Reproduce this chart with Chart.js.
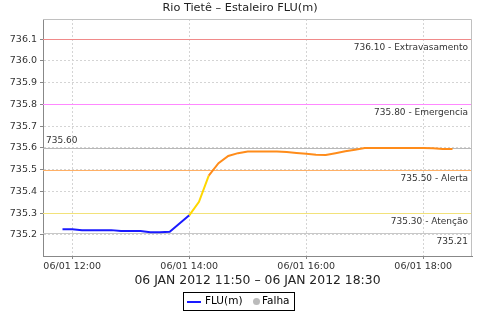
<!DOCTYPE html>
<html>
<head>
<meta charset="utf-8">
<script src="https://cdn.jsdelivr.net/npm/chart.js@4/dist/chart.umd.min.js"></script>
<style>
  html, body { margin: 0; padding: 0; background: #fff; }
  #chart { display: block; }
</style>
</head>
<body>
<canvas id="chart" width="480" height="320"></canvas>
<script>
"use strict";

// readings every 10 minutes, 06 JAN 2012
const times = ["11:50", "12:00", "12:10", "12:20", "12:30", "12:40", "12:50",
               "13:00", "13:10", "13:20", "13:30", "13:40", "13:50",
               "14:00", "14:10", "14:20", "14:30", "14:40", "14:50",
               "15:00", "15:10", "15:20", "15:30", "15:40", "15:50",
               "16:00", "16:10", "16:20", "16:30", "16:40", "16:50",
               "17:00", "17:10", "17:20", "17:30", "17:40", "17:50",
               "18:00", "18:10", "18:20", "18:30"];
const levels = [735.226, 735.226, 735.222, 735.222, 735.222, 735.222, 735.218,
                735.218, 735.218, 735.212, 735.212, 735.214, 735.252,
                735.290, 735.352, 735.473, 735.530, 735.563, 735.576,
                735.584, 735.584, 735.584, 735.584, 735.581, 735.577,
                735.573, 735.569, 735.568, 735.576, 735.585, 735.592,
                735.600, 735.600, 735.600, 735.600, 735.600, 735.600,
                735.600, 735.598, 735.595, 735.595];

const xTicks = ["12:00", "14:00", "16:00", "18:00"];
const yTicks = [735.2, 735.3, 735.4, 735.5, 735.6, 735.7, 735.8, 735.9, 736.0, 736.1];

const thresholdValues = [736.10, 735.80, 735.60, 735.50, 735.30, 735.21];
const thresholdNames = ["Extravasamento", "Emergencia", "", "Alerta", "Atenção", ""];

const titleText = "Rio Tietê – Estaleiro FLU(m)";
const rangeText = "06 JAN 2012 11:50 – 06 JAN 2012 18:30";
const legendNames = ["FLU(m)", "Falha"];

const FONT = "'DejaVu Sans', sans-serif";
const thresholdColors = ["#f08a8a", "#ff88ff", "#b8b8b8", "#ffb066", "#f2e27a", "#c8c8c8"];

function toMinutes(t) {
  const [h, m] = t.split(":").map(Number);
  return h * 60 + m;
}

function fmtTime(min) {
  const h = Math.floor(min / 60), m = min % 60;
  return "06/01 " + String(h).padStart(2, "0") + ":" + String(m).padStart(2, "0");
}

function levelColor(v) {
  if (v < 735.30) return "#1a1aff";
  if (v < 735.50) return "#ffd700";
  return "#ff8c1a";
}

const points = times.map((t, i) => ({ x: toMinutes(t), y: levels[i] }));

const decorPlugin = {
  id: "decor",
  beforeDatasetsDraw(chart) {
    const ctx = chart.ctx;
    const area = chart.chartArea;
    const y = chart.scales.y;
    ctx.save();
    ctx.font = "9px " + FONT;
    ctx.textBaseline = "middle";
    thresholdValues.forEach((v, i) => {
      const py = Math.round(y.getPixelForValue(v)) + 0.5;
      ctx.strokeStyle = thresholdColors[i];
      ctx.lineWidth = 1;
      ctx.beginPath();
      ctx.moveTo(area.left, py);
      ctx.lineTo(area.right, py);
      ctx.stroke();
      ctx.fillStyle = "#333";
      const label = v.toFixed(2) + (thresholdNames[i] ? " - " + thresholdNames[i] : "");
      if (v === 735.60) {
        ctx.textAlign = "left";
        ctx.fillText(label, area.left + 3, py - 8);
      } else {
        ctx.textAlign = "right";
        ctx.fillText(label, area.right - 4, py + 8);
      }
    });
    ctx.restore();
  },
  afterDraw(chart) {
    const ctx = chart.ctx;
    const area = chart.chartArea;
    ctx.save();
    // plot outline (top and right)
    ctx.strokeStyle = "#c0c0c0";
    ctx.lineWidth = 1;
    ctx.beginPath();
    ctx.moveTo(area.left, area.top + 0.5);
    ctx.lineTo(area.right - 0.5, area.top + 0.5);
    ctx.lineTo(area.right - 0.5, area.bottom);
    ctx.stroke();

    // title
    ctx.fillStyle = "#222";
    ctx.textAlign = "center";
    ctx.textBaseline = "middle";
    ctx.font = "11.3px " + FONT;
    ctx.fillText(titleText, 240, 8);

    // date range
    ctx.font = "12.4px " + FONT;
    ctx.fillText(rangeText, (area.left + area.right) / 2, 281);

    // legend
    ctx.strokeStyle = "#000";
    ctx.strokeRect(183.5, 292.5, 111, 18);
    ctx.strokeStyle = "#1a1aff";
    ctx.lineWidth = 2;
    ctx.beginPath();
    ctx.moveTo(187, 302);
    ctx.lineTo(201, 302);
    ctx.stroke();
    ctx.fillStyle = "#bbbbbb";
    ctx.beginPath();
    ctx.arc(256.5, 301.5, 3.5, 0, Math.PI * 2);
    ctx.fill();
    ctx.fillStyle = "#000";
    ctx.textAlign = "left";
    ctx.font = "10.5px " + FONT;
    ctx.fillText(legendNames[0], 205, 301.5);
    ctx.fillText(legendNames[1], 262, 301.5);
    ctx.restore();
  }
};

const chart = new Chart(document.getElementById("chart"), {
  type: "line",
  data: {
    datasets: [{
      label: legendNames[0],
      data: points,
      borderColor: "#1a1aff",
      borderWidth: 2,
      pointRadius: 0,
      tension: 0,
      segment: {
        borderColor: c => levelColor(c.p1.parsed.y)
      }
    }]
  },
  options: {
    responsive: false,
    animation: false,
    layout: { padding: { left: 0, right: 8, top: 19, bottom: 46 } },
    plugins: {
      legend: { display: false },
      tooltip: { enabled: false },
      title: { display: false }
    },
    scales: {
      x: {
        type: "linear",
        min: toMinutes("11:30"),
        max: toMinutes("18:50"),
        afterBuildTicks: s => { s.ticks = xTicks.map(t => ({ value: toMinutes(t) })); },
        afterFit: s => { s.height = 18; },
        ticks: {
          callback: v => fmtTime(v),
          font: { family: FONT, size: 9.5 },
          color: "#333",
          padding: 2,
          maxRotation: 0,
          autoSkip: false
        },
        grid: { color: "#d4d4d4", tickLength: 3, tickColor: "#888" },
        border: { color: "#888", dash: [2, 2] }
      },
      y: {
        min: 735.103,
        max: 736.193,
        afterBuildTicks: s => { s.ticks = yTicks.map(v => ({ value: v })); },
        afterFit: s => { s.width = 43; },
        ticks: {
          callback: v => v.toFixed(1),
          font: { family: FONT, size: 9.5 },
          color: "#333",
          padding: 3,
          autoSkip: false
        },
        grid: { color: "#d4d4d4", tickLength: 3, tickColor: "#888" },
        border: { color: "#888", dash: [2, 2] }
      }
    }
  },
  plugins: [decorPlugin]
});
</script>
</body>
</html>
